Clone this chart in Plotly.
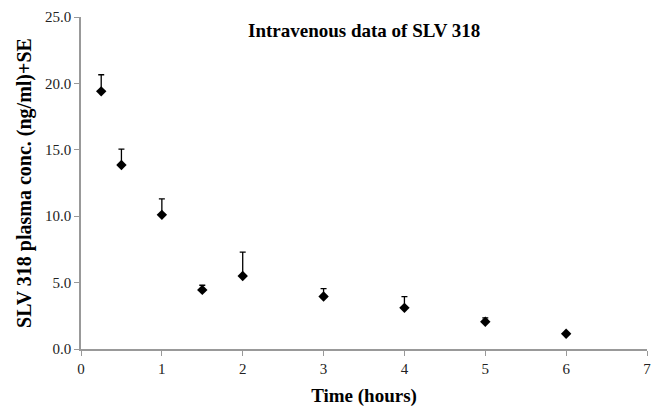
import plotly.graph_objects as go

time_h = [0.25, 0.5, 1, 1.5, 2, 3, 4, 5, 6]
conc = [19.4, 13.85, 10.1, 4.45, 5.5, 3.95, 3.1, 2.05, 1.15]
se = [1.25, 1.2, 1.2, 0.35, 1.8, 0.6, 0.85, 0.3, 0.08]
zeros = [0] * len(se)

fig = go.Figure()
fig.add_trace(go.Scatter(
    x=time_h, y=conc, mode="markers",
    marker=dict(symbol="diamond", size=8, color="black"),
    error_y=dict(type="data", symmetric=False, array=se, arrayminus=zeros,
                 color="black", thickness=1.3, width=3),
    showlegend=False,
))

font = "Liberation Serif, Times New Roman, serif"
fig.update_layout(
    width=652, height=407,
    margin=dict(l=81, r=5, t=17, b=58),
    paper_bgcolor="white", plot_bgcolor="white",
    font=dict(family=font, size=15, color="#222"),
    annotations=[dict(text="<b>Intravenous data of SLV 318</b>", x=0.5, xref="paper",
                      y=1.0, yref="paper", yanchor="top", yshift=-1, showarrow=False,
                      font=dict(family=font, size=19, color="black"))],
)
fig.update_xaxes(range=[0, 7], dtick=1, showgrid=False, zeroline=False,
                 showline=True, linecolor="#999", linewidth=1.5,
                 ticks="outside", ticklen=5, tickcolor="#999", automargin=False,
                 title=dict(text="<b>Time (hours)</b>", font=dict(size=19, color="black"), standoff=15))
fig.update_yaxes(range=[0, 25], dtick=5, tickformat=".1f", showgrid=False, zeroline=False,
                 showline=True, linecolor="#999", linewidth=1.5,
                 ticks="outside", ticklen=5, tickcolor="#999", automargin=False,
                 title=dict(text="<b>SLV 318 plasma conc. (ng/ml)+SE</b>", font=dict(size=20, color="black"), standoff=8))

fig.write_html("out.html", config={"displayModeBar": False},
               post_script="document.body.style.margin='0';document.body.style.overflow='hidden';")
